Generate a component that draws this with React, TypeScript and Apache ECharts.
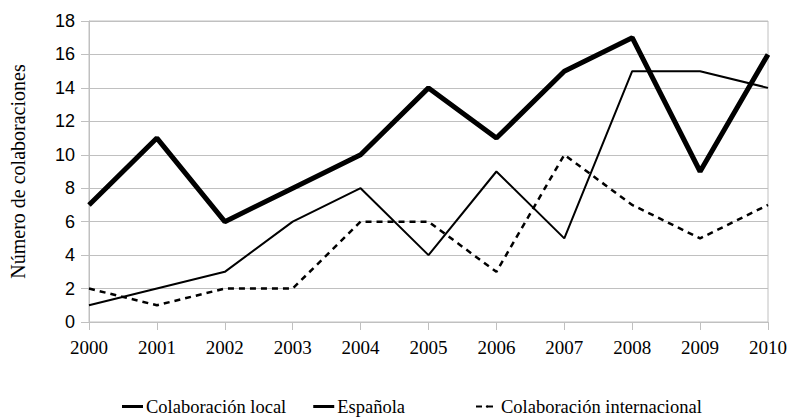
import React, { useEffect, useRef } from "react";
import * as echarts from "echarts";

const years = ["2000", "2001", "2002", "2003", "2004", "2005", "2006", "2007", "2008", "2009", "2010"];
const local = [7, 11, 6, 8, 10, 14, 11, 15, 17, 9, 16];
const espanola = [1, 2, 3, 6, 8, 4, 9, 5, 15, 15, 14];
const internacional = [2, 1, 2, 2, 6, 6, 3, 10, 7, 5, 7];

const serif = "Liberation Serif";
const sans = "Liberation Sans";

export default function App() {
  const ref = useRef<HTMLDivElement>(null);
  useEffect(() => {
    const chart = echarts.init(ref.current!, undefined, { renderer: "svg" });
    const legendText = { fontFamily: serif, fontSize: 18.5, color: "#000" };
    chart.setOption({
      animation: false,
      backgroundColor: "#ffffff",
      grid: {
        left: 87,
        right: 22,
        top: 21,
        bottom: 96,
        show: true,
        borderColor: "#c0c0c0",
        borderWidth: 1,
      },
      legend: [
        {
          top: 392,
          left: 117,
          itemWidth: 21,
          itemHeight: 3,
          itemGap: 27,
          textStyle: { ...legendText, padding: [0, 0, 0, -2] },
          data: [
            { name: "Colaboración local", icon: "rect" },
            { name: "Española", icon: "rect" },
          ],
        },
        {
          top: 392,
          left: 470,
          itemWidth: 22,
          itemHeight: 3,
          textStyle: { ...legendText, padding: [0, 0, 0, -2] },
          data: [{ name: "Colaboración internacional" }],
        },
      ],
      xAxis: {
        type: "category",
        data: years,
        boundaryGap: false,
        axisLine: { lineStyle: { color: "#c0c0c0", width: 1 } },
        axisTick: { show: true, length: 8, lineStyle: { color: "#c0c0c0" }, alignWithLabel: true },
        axisLabel: { fontFamily: serif, fontSize: 19, color: "#000", margin: 16 },
        splitLine: { show: false },
      },
      yAxis: {
        type: "value",
        min: 0,
        max: 18,
        interval: 2,
        name: "Número de colaboraciones",
        nameLocation: "middle",
        nameGap: 61,
        nameTextStyle: { fontFamily: serif, fontSize: 20, color: "#000" },
        axisLine: { show: true, lineStyle: { color: "#c0c0c0", width: 1 } },
        axisTick: { show: true, length: 8, lineStyle: { color: "#c0c0c0" } },
        axisLabel: { fontFamily: sans, fontSize: 18, color: "#000", margin: 14 },
        splitLine: { show: true, lineStyle: { color: "#c0c0c0", width: 1 } },
      },
      series: [
        {
          name: "Colaboración local",
          type: "line",
          data: local,
          symbol: "none",
          itemStyle: { color: "#000" },
          lineStyle: { color: "#000", width: 5 },
        },
        {
          name: "Española",
          type: "line",
          data: espanola,
          symbol: "none",
          itemStyle: { color: "#000" },
          lineStyle: { color: "#000", width: 2 },
        },
        {
          name: "Colaboración internacional",
          type: "line",
          data: internacional,
          symbol: "none",
          itemStyle: { color: "#000" },
          lineStyle: { color: "#000", width: 2.5, type: [6, 5] },
        },
      ],
    });
    return () => chart.dispose();
  }, []);
  return <div ref={ref} style={{ width: 790, height: 418, position: "absolute", left: 0, top: 0 }} />;
}
